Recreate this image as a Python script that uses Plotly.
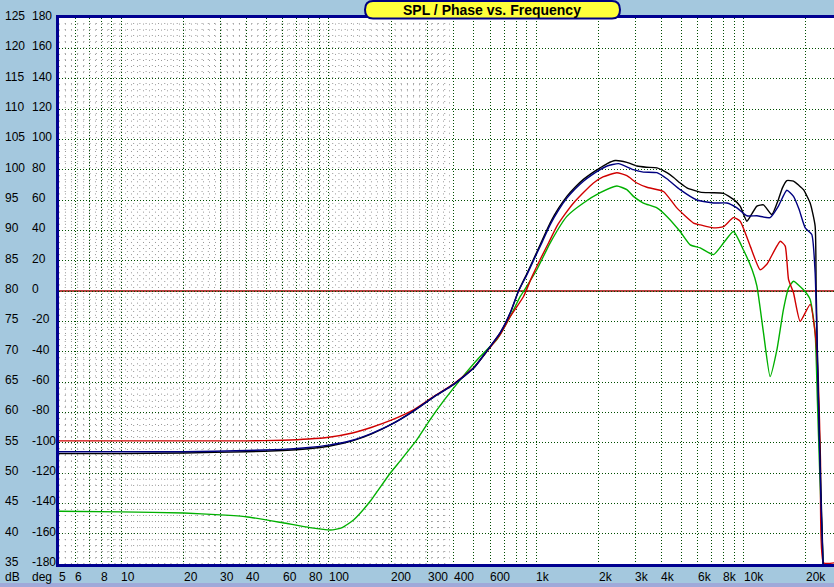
import numpy as np
import plotly.graph_objects as go

# ---------------- data ----------------
freq_black = [5, 10, 20, 40, 60, 80, 100, 130, 160, 200, 256, 320, 400, 500, 578, 670, 750, 822, 900, 970,
              1070, 1167, 1280, 1406, 1540, 1690, 1850, 2036, 2200, 2405, 2737, 3060, 3400, 3822, 4268, 4600,
              4947, 5333, 6180, 7000, 8000, 8940, 9630, 10380, 11000, 11600, 12480, 13680, 14730, 15400, 16170,
              17410, 18500, 19450, 20950, 22140, 22390, 22870, 23500, 24170, 24600]
db_black = [53.2, 53.2, 53.3, 53.5, 53.7, 54.0, 54.4, 55.3, 56.4, 58.0, 60.2, 62.5, 64.6, 67.3, 70.1, 73.1, 76.4,
            80.0, 82.8, 85.2, 88.4, 91.2, 93.6, 95.6, 97.1, 98.4, 99.4, 100.3, 101.0, 101.5, 101.2, 100.6, 100.4,
            100.3, 99.5, 98.7, 97.8, 97.0, 96.3, 96.2, 96.1, 95.1, 94.0, 91.5, 92.8, 94.0, 94.2, 92.6, 95.1, 97.0,
            98.2, 98.1, 97.4, 96.7, 94.5, 90.7, 80.4, 65.0, 50.0, 35.5, 30.0]

freq_blue = [5, 10, 20, 40, 60, 80, 100, 130, 160, 200, 256, 320, 400, 500, 578, 670, 750, 822, 900, 970, 1070,
             1167, 1280, 1406, 1540, 1690, 1850, 2036, 2200, 2495, 2944, 3288, 3822, 4268, 4947, 5954, 7163, 8310,
             9290, 10380, 11600, 13430, 14730, 16170, 17410, 18500, 19830, 21330, 22140, 22600, 23100, 23600,
             24150, 24600]
db_blue = [53.5, 53.5, 53.5, 53.7, 53.9, 54.2, 54.6, 55.4, 56.5, 58.0, 60.2, 62.5, 64.6, 67.3, 70.1, 73.1, 76.4,
           80.0, 82.6, 85.0, 88.1, 90.9, 93.3, 95.3, 96.8, 98.1, 99.1, 100.0, 100.6, 101.0, 100.0, 99.6, 99.5,
           98.5, 96.7, 95.0, 94.5, 94.5, 93.7, 92.4, 92.4, 92.1, 94.0, 96.6, 95.6, 93.5, 90.4, 89.3, 83.0, 72.0,
           58.0, 46.0, 35.5, 30.0]

freq_red = [5, 20, 40, 60, 80, 100, 130, 160, 200, 256, 320, 400, 500, 578, 670, 750, 869, 950, 1045, 1150, 1259,
            1380, 1515, 1700, 1889, 2100, 2449, 2737, 3060, 3421, 4111, 4766, 5737, 6180, 7163, 8000, 8940, 9630,
            10770, 12020, 12950, 15030, 15880, 16480, 17410, 18750, 20950, 22140, 22960, 23500, 24300, 27500]
db_red = [55.3, 55.3, 55.3, 55.4, 55.6, 55.9, 56.6, 57.5, 58.7, 60.4, 62.6, 64.7, 67.4, 70.0, 72.8, 75.8, 79.1,
          82.2, 85.2, 88.0, 90.7, 92.7, 94.5, 96.3, 97.8, 98.8, 99.5, 99.0, 97.8, 97.1, 96.4, 93.7, 91.2, 90.9,
          90.4, 90.6, 92.1, 91.5, 87.4, 83.5, 84.4, 88.2, 87.4, 81.9, 79.7, 75.0, 77.8, 73.1, 64.9, 52.0, 35.2,
          35.2]

freq_green = [5, 10, 20, 30, 40, 60, 81, 102, 116, 132, 158, 198, 221, 266, 308, 360, 431, 537, 646, 750, 838,
              902, 1007, 1167, 1406, 1690, 2036, 2449, 2737, 2944, 3288, 3822, 4268, 4947, 5530, 6180, 7163, 8000,
              8940, 9980, 11000, 11600, 12480, 13430, 14480, 15560, 16480, 17410, 19450, 20950, 22140, 22700,
              23300, 24000, 24500]
db_green = [43.7, 43.6, 43.4, 43.1, 42.8, 41.8, 41.0, 40.6, 41.0, 42.3, 45.3, 50.0, 52.0, 55.5, 58.8, 62.0, 65.4,
            69.2, 72.0, 75.8, 79.1, 80.8, 83.5, 87.9, 92.3, 94.5, 96.2, 97.3, 96.7, 95.6, 94.5, 93.7, 92.3, 89.8,
            87.6, 87.1, 86.0, 87.9, 89.8, 86.8, 83.5, 80.8, 73.1, 65.9, 70.3, 76.9, 80.5, 81.6, 80.2, 78.6, 73.1,
            62.0, 50.0, 38.0, 30.0]

db_ticks = [125, 120, 115, 110, 105, 100, 95, 90, 85, 80, 75, 70, 65, 60, 55, 50, 45, 40, 35]
deg_ticks = [180, 160, 140, 120, 100, 80, 60, 40, 20, 0, -20, -40, -60, -80, -100, -120, -140, -160, -180]
x_grid_vals = [5, 6, 7, 8, 9, 10, 20, 30, 40, 50, 60, 70, 80, 90, 100, 200, 300, 400, 500, 600, 700, 800, 900,
               1000, 2000, 3000, 4000, 5000, 6000, 7000, 8000, 9000, 10000, 20000]
x_label_vals = [5, 6, 8, 10, 20, 30, 40, 60, 80, 100, 200, 300, 400, 600, 1000, 2000, 3000, 4000, 6000, 8000,
                10000, 20000]
x_label_text = ["5", "6", "8", "10", "20", "30", "40", "60", "80", "100", "200", "300", "400", "600", "1k", "2k",
                "3k", "4k", "6k", "8k", "10k", "20k"]
title_text = "SPL / Phase vs. Frequency"

# ---------------- geometry ----------------
W, H = 834, 587
def px(x):
    return x / W
def py(y):
    return 1 - y / H

BG = "#A4C8DE"
FONT = "Arial, Liberation Sans, sans-serif"
TXT = dict(family=FONT, size=12, color="#000000")

fig = go.Figure()

# faint dot texture in the low-frequency part of the plot
tex_lo, tex_hi = 5.0, 385.0
hx, hy = [], []
for d in range(36, 125):
    if d % 5 == 0:
        continue
    hx += [tex_lo, tex_hi, None]
    hy += [d, d, None]
fig.add_trace(go.Scatter(x=hx, y=hy, mode="lines", hoverinfo="skip",
                         line=dict(color="#989898", width=1, dash="1px,5px")))
vx, vy = [], []
for lf in np.arange(np.log10(tex_lo) + 0.03, np.log10(tex_hi), 0.03):
    f = 10 ** lf
    vx += [f, f, None]
    vy += [35, 125, None]
fig.add_trace(go.Scatter(x=vx, y=vy, mode="lines", hoverinfo="skip",
                         line=dict(color="#989898", width=1, dash="1px,5px")))

for fx, fy, col in [(freq_green, db_green, "#00B000"),
                    (freq_red, db_red, "#D00000"),
                    (freq_black, db_black, "#000000"),
                    (freq_blue, db_blue, "#000080")]:
    fig.add_trace(go.Scatter(x=fx, y=fy, mode="lines",
                             line=dict(color=col, width=1.4, shape="spline", smoothing=0.5),
                             hoverinfo="skip"))

# invisible trace for the deg axis
fig.add_trace(go.Scatter(x=[5], y=[0], yaxis="y2", mode="markers", marker=dict(opacity=0),
                         hoverinfo="skip"))

shapes = [
    # 0 deg reference line
    dict(type="line", xref="paper", yref="y", x0=px(59), x1=1, y0=80, y1=80,
         line=dict(color="#A00000", width=1.5), layer="below"),
    # bottom strip
    dict(type="rect", xref="paper", yref="paper", x0=0, x1=1, y0=0, y1=py(583),
         fillcolor="#9FA9D9", line=dict(width=0), layer="below"),
]
# title pill
x0, x1, y0, y1, r = 365, 620, 1, 18.5, 8
path = (f"M {px(x0 + r)},{py(y0)} L {px(x1 - r)},{py(y0)} "
        f"Q {px(x1)},{py(y0)} {px(x1)},{py((y0 + y1) / 2)} "
        f"Q {px(x1)},{py(y1)} {px(x1 - r)},{py(y1)} "
        f"L {px(x0 + r)},{py(y1)} "
        f"Q {px(x0)},{py(y1)} {px(x0)},{py((y0 + y1) / 2)} "
        f"Q {px(x0)},{py(y0)} {px(x0 + r)},{py(y0)} Z")
shapes.append(dict(type="path", xref="paper", yref="paper", path=path, fillcolor="#FFFF3A",
                   line=dict(color="#000080", width=2), layer="above"))

annotations = [dict(text=f"<b>{title_text}</b>", x=px(492), y=py(10), xref="paper", yref="paper",
                    xanchor="center", yanchor="middle",
                    showarrow=False, font=dict(family=FONT, size=14, color="#000000"))]
for v in db_ticks:
    annotations.append(dict(text=str(v), x=px(3), y=v, xref="paper", yref="y", xanchor="left",
                            yanchor="middle", showarrow=False, yshift=2, font=TXT))
for v in deg_ticks:
    annotations.append(dict(text=str(v), x=px(29.5), y=v, xref="paper", yref="y2", xanchor="left",
                            yanchor="middle", showarrow=False, yshift=2, font=TXT))
for v, t in zip(x_label_vals, x_label_text):
    annotations.append(dict(text=t, x=np.log10(v), y=py(577), xref="x", yref="paper", xanchor="left",
                            yanchor="middle", showarrow=False, xshift=-2, font=TXT))
annotations.append(dict(text="dB", x=px(3), y=py(577), xref="paper", yref="paper", xanchor="left",
                        yanchor="middle", showarrow=False, font=TXT))
annotations.append(dict(text="deg", x=px(29.5), y=py(577), xref="paper", yref="paper", xanchor="left",
                        yanchor="middle", showarrow=False, font=TXT))

fig.update_layout(
    width=W, height=H,
    margin=dict(l=0, r=0, t=0, b=0, autoexpand=False),
    paper_bgcolor=BG, plot_bgcolor="#FFFFFF",
    showlegend=False, hovermode=False,
    shapes=shapes, annotations=annotations,
    xaxis=dict(type="log", domain=[59 / W, 1], range=[np.log10(5), np.log10(27300)],
               tickmode="array", tickvals=x_grid_vals, showticklabels=False, ticks="",
               showgrid=True, gridcolor="#004D00", griddash="1px,2px", gridwidth=1,
               showline=True, linecolor="#000090", linewidth=3, mirror=True, zeroline=False,
               anchor="y"),
    yaxis=dict(domain=[23 / H, 1 - 18 / H], range=[35, 125], tickmode="array", tickvals=db_ticks,
               showticklabels=False, ticks="",
               showgrid=True, gridcolor="#004D00", griddash="1px,2px", gridwidth=1,
               showline=True, linecolor="#000090", linewidth=3, zeroline=False, anchor="x"),
    yaxis2=dict(domain=[23 / H, 1 - 18 / H], range=[-180, 180], overlaying="y", showgrid=False,
                showticklabels=False, showline=False, zeroline=False, anchor="x"),
)

fig.write_html("out.html", config={"displayModeBar": False},
               post_script="document.body.style.margin='0';document.body.style.overflow='hidden';")
